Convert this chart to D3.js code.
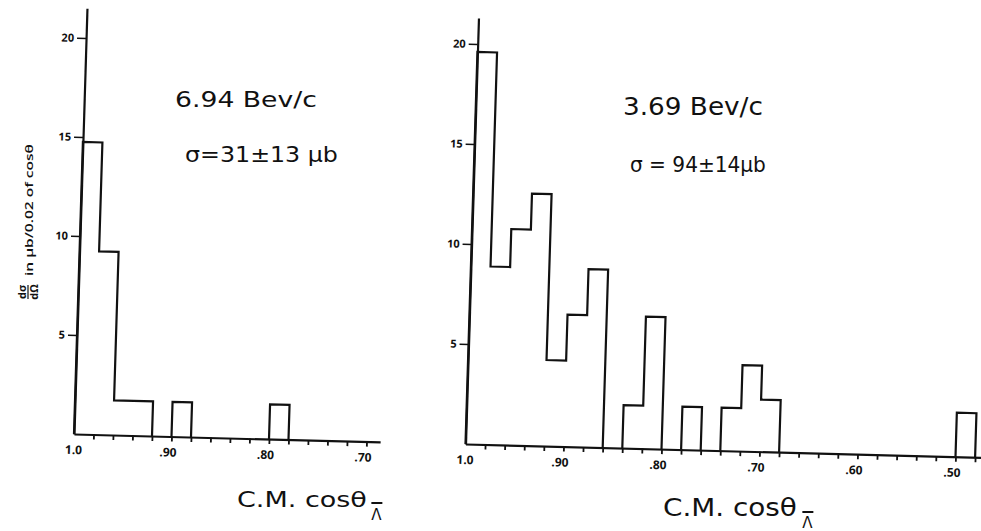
<!DOCTYPE html>
<html><head><meta charset="utf-8">
<script src="https://cdn.jsdelivr.net/npm/d3@7"></script>
<style>html,body{margin:0;padding:0;background:#fff;} svg{display:block;}</style>
</head><body>
<svg id="c" width="981" height="531"></svg>
<script>
// ---------------- data ----------------
const binWidth = 0.02;
// upper edge of each 0.02 bin in cos(theta)
const leftBinStarts  = [1.00, 0.98, 0.96, 0.94, 0.92, 0.90, 0.88, 0.86, 0.84, 0.82, 0.80];
const leftValues     = [14.75, 9.25, 1.75, 1.75, 0,   1.75, 0,    0,    0,    0,    1.75];
const rightBinStarts = [1.00, 0.98, 0.96, 0.94, 0.92, 0.90, 0.88, 0.86, 0.84, 0.82, 0.80, 0.78, 0.76,
                        0.74, 0.72, 0.70, 0.68, 0.66, 0.64, 0.62, 0.60, 0.58, 0.56, 0.54, 0.52, 0.50];
const rightValues    = [19.6, 8.9, 10.8, 12.6, 4.3, 6.6, 8.9, 0, 2.15, 6.6, 0, 2.15, 0,
                        2.15, 4.3, 2.6, 0, 0, 0, 0, 0, 0, 0, 0, 0, 2.2];
const yTickValues = [5, 10, 15, 20];
const leftXTickValues  = [1.0, 0.9, 0.8, 0.7];
const leftXTickLabels  = ["1.0", ".90", ".80", ".70"];
const rightXTickValues = [1.0, 0.9, 0.8, 0.7, 0.6, 0.5];
const rightXTickLabels = ["1.0", ".90", ".80", ".70", ".60", ".50"];
const leftMinorTicks  = [0.98,0.96,0.94,0.92,0.90,0.88,0.86,0.84,0.82,0.80,0.78,0.76,0.74,0.72,0.70];
const rightMinorTicks = [0.98,0.96,0.94,0.92,0.90,0.88,0.86,0.84,0.82,0.80,0.78,0.76,0.74,0.72,0.70,
                         0.68,0.66,0.64,0.62,0.60,0.58,0.56,0.54,0.52,0.50,0.48];
const leftNotes  = ["6.94 Bev/c", "σ=31±13 μb"];
const rightNotes = ["3.69 Bev/c", "σ = 94±14μb"];
const xTitle = "C.M. cosθ";
const xTitleSub = "Λ";
const yLabelNum = "dσ", yLabelDen = "dΩ", yLabelText = "in μb/0.02 of cosθ";

// ---------------- layout ----------------
const svg = d3.select("#c");
const FONT = "'Open Sans', 'DejaVu Sans', sans-serif";
const WIDE = "'DejaVu Sans', sans-serif";
const INK = "#111";

const panels = [
  {corner:[74,434], px01:97.5, pxUnit:19.8, xEnd:0.686, yTop:21.5,
   starts:leftBinStarts, vals:leftValues, minor:leftMinorTicks,
   tv:leftXTickValues, tl:leftXTickLabels},
  {corner:[465.5,444], px01:98, pxUnit:20, xEnd:0.4745, yTop:21.3,
   starts:rightBinStarts, vals:rightValues, minor:rightMinorTicks,
   tv:rightXTickValues, tl:rightXTickLabels}
];

function histPath(starts, vals, x, y){
  let d = "", open = false;
  for (let i = 0; i < starts.length; i++){
    const v = vals[i];
    const x0 = x(starts[i]), x1 = x(starts[i] - binWidth);
    if (v > 0){
      if (!open){ d += `M${x0},${y(0)}V${y(v)}`; open = true; }
      else d += `V${y(v)}`;
      d += `H${x1}`;
    } else if (open){ d += `V${y(0)}`; open = false; }
  }
  if (open) d += `V${y(0)}`;
  return d;
}

panels.forEach(p => {
  const x = d3.scaleLinear().domain([1.0, p.xEnd]).range([0, (1 - p.xEnd) * p.px01 * 10]);
  const y = d3.scaleLinear().domain([0, p.yTop]).range([0, -p.yTop * p.pxUnit]);
  const g = svg.append("g")
    .attr("transform", `matrix(1,0.026,-0.0305,1,${p.corner[0]},${p.corner[1]})`);

  const ya = g.append("g").call(d3.axisLeft(y).tickValues(yTickValues).tickSize(9).tickPadding(3).tickSizeOuter(0));
  ya.select(".domain").attr("stroke", INK).attr("stroke-width", 2.2);
  ya.selectAll(".tick line").attr("stroke", INK).attr("stroke-width", 1.6);
  ya.selectAll(".tick text").attr("font-family", FONT).attr("font-size", 11).attr("font-weight", 700).attr("fill", INK);

  const xa = g.append("g").call(d3.axisBottom(x).tickValues(p.minor).tickSize(5).tickFormat("").tickSizeOuter(0));
  xa.select(".domain").attr("stroke", INK).attr("stroke-width", 2.2);
  xa.selectAll(".tick line").attr("stroke", INK).attr("stroke-width", 1.8);

  g.selectAll("text.xl").data(p.tv).join("text")
    .attr("class", "xl")
    .attr("x", d => x(d) - (d === 1.0 ? 0 : 3))
    .attr("y", 20)
    .attr("text-anchor", "middle")
    .attr("font-family", FONT).attr("font-size", 12).attr("font-weight", 700).attr("fill", INK)
    .text((d, i) => p.tl[i]);

  g.append("path").attr("d", histPath(p.starts, p.vals, x, y))
    .attr("fill", "none").attr("stroke", INK).attr("stroke-width", 2.2)
    .attr("stroke-linejoin", "miter");
});

// text stretched horizontally to a target width (wide lettering)
function wideText(parent, txt, x0, yb, size, len, family, weight){
  const t = parent.append("text").attr("x", 0).attr("y", 0)
    .attr("font-family", family || WIDE).attr("font-size", size)
    .attr("font-weight", weight || 400).attr("fill", INK).text(txt);
  const w = t.node().getComputedTextLength();
  const sx = len / w;
  t.attr("transform", `translate(${x0},${yb}) scale(${sx},1)`);
  return t;
}
wideText(svg, leftNotes[0], 175, 107, 20.5, 142);
wideText(svg, leftNotes[1], 185, 162, 20.5, 153);
wideText(svg, rightNotes[0], 623, 115, 25, 140);
wideText(svg, rightNotes[1], 630, 172, 21.5, 136);

function xTitleAt(x0, yb, size, len, subX, subY, barY){
  wideText(svg, xTitle, x0, yb, size, len);
  const s = svg.append("text").attr("x", subX).attr("y", subY)
    .attr("text-anchor", "middle")
    .attr("font-family", WIDE).attr("font-size", 15).attr("fill", INK)
    .text(xTitleSub);
  const bb = s.node().getBBox();
  svg.append("line").attr("x1", bb.x).attr("x2", bb.x + bb.width)
    .attr("y1", barY).attr("y2", barY).attr("stroke", INK).attr("stroke-width", 2);
}
xTitleAt(237, 507, 22, 130, 376.5, 520, 503);
xTitleAt(663, 516, 25, 134, 807.5, 528, 512);

// y label (rotated)
const yl = svg.append("g").attr("transform", "rotate(-90)");
yl.append("text").attr("x", -292).attr("y", 26).attr("text-anchor", "middle")
  .attr("font-family", FONT).attr("font-size", 11).attr("font-weight", 700).attr("fill", INK).text(yLabelNum);
yl.append("line").attr("x1", -299).attr("x2", -285).attr("y1", 28).attr("y2", 28)
  .attr("stroke", INK).attr("stroke-width", 1.2);
yl.append("text").attr("x", -292).attr("y", 38).attr("text-anchor", "middle")
  .attr("font-family", FONT).attr("font-size", 11).attr("font-weight", 700).attr("fill", INK).text(yLabelDen);
wideText(yl, yLabelText, -276, 32.5, 10, 132, FONT, 600);
</script>
</body></html>
